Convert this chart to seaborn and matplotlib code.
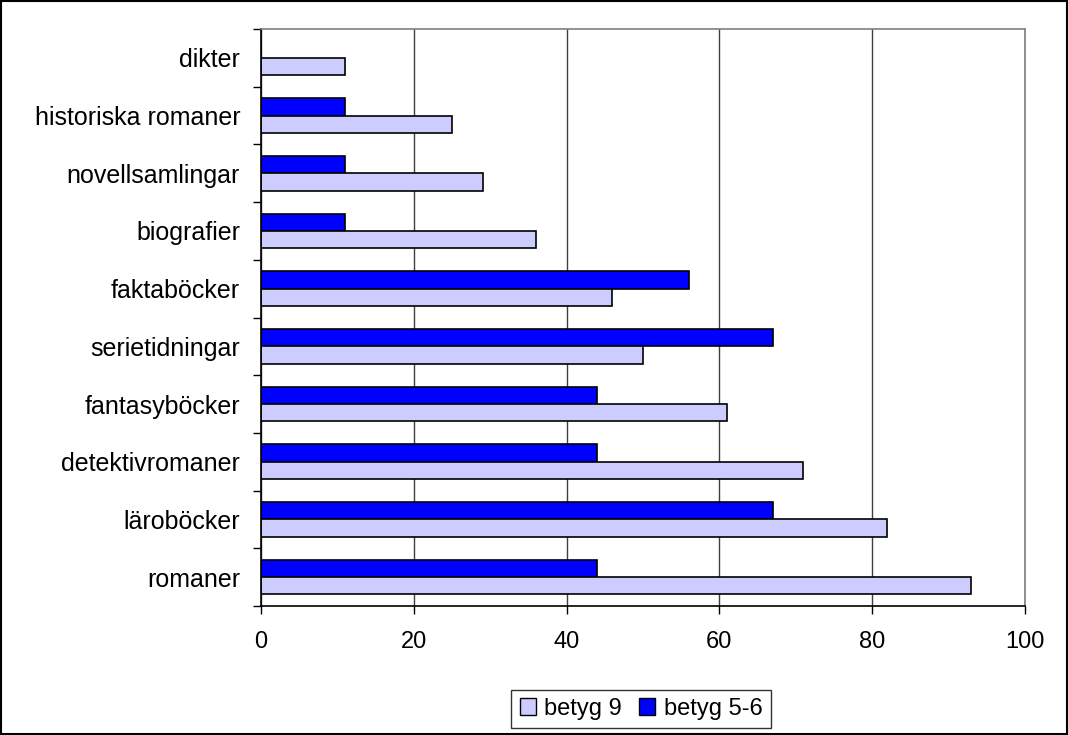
import pandas as pd
import matplotlib
matplotlib.use("Agg")
import matplotlib.pyplot as plt
import seaborn as sns
from matplotlib.patches import Patch, Rectangle

# data (top to bottom)
kategorier = ["dikter", "historiska romaner", "novellsamlingar", "biografier",
              "faktaböcker", "serietidningar", "fantasyböcker",
              "detektivromaner", "läroböcker", "romaner"]
betyg_9 = [11, 25, 29, 36, 46, 50, 61, 71, 82, 93]
betyg_5_6 = [0, 11, 11, 11, 56, 67, 44, 44, 67, 44]

df = pd.DataFrame({
    "kategori": kategorier * 2,
    "serie": ["betyg 5-6"] * len(kategorier) + ["betyg 9"] * len(kategorier),
    "varde": betyg_5_6 + betyg_9,
})

farger = {"betyg 9": "#CCCCFF", "betyg 5-6": "#0000FF"}

sns.set_style("white")
plt.rcParams["font.family"] = ["Liberation Sans", "DejaVu Sans"]
plt.rcParams["text.color"] = "black"

fig = plt.figure(figsize=(10.68, 7.35), dpi=100)
ax = fig.add_axes([0.2444, 0.1755, 0.9597 - 0.2444, 0.9605 - 0.1755])

sns.barplot(data=df, y="kategori", x="varde", hue="serie",
            order=kategorier, hue_order=["betyg 5-6", "betyg 9"],
            palette=farger, saturation=1, orient="h", width=0.6, dodge=True,
            edgecolor="black", linewidth=1.2, legend=False, ax=ax)

ax.set_xlim(0, 100)
ax.set_ylim(len(kategorier) - 0.5, -0.5)
ax.set_xticks(range(0, 101, 20))
ax.set_xlabel("")
ax.set_ylabel("")
ax.tick_params(axis="x", labelsize=17, length=6, width=1, direction="out",
               pad=12, bottom=True, color="black", labelcolor="black")
ax.tick_params(axis="y", labelsize=18, length=0, pad=15, labelcolor="black")

# category separator ticks on the left
ax.set_yticks([i + 0.5 for i in range(-1, len(kategorier))], minor=True)
ax.tick_params(axis="y", which="minor", length=6, width=1, left=True, color="black")

ax.grid(axis="x", color="#404040", linewidth=1)
ax.set_axisbelow(True)

for s in ["left", "bottom"]:
    ax.spines[s].set_color("black")
    ax.spines[s].set_linewidth(1.2)
for s in ["top", "right"]:
    ax.spines[s].set_color("#808080")
    ax.spines[s].set_linewidth(1.2)

handles = [Patch(facecolor=farger["betyg 9"], edgecolor="black", label="betyg 9"),
           Patch(facecolor=farger["betyg 5-6"], edgecolor="black", label="betyg 5-6")]
leg = fig.legend(handles=handles, loc="center", ncol=2,
                 bbox_to_anchor=(641 / 1068, 1 - 709 / 735),
                 frameon=True, fancybox=False, fontsize=17,
                 handlelength=0.7, handleheight=0.7, handletextpad=0.35,
                 columnspacing=0.7, borderpad=0.35, borderaxespad=0)
leg.get_frame().set_edgecolor("black")
leg.get_frame().set_linewidth(1)

fig.patches.append(Rectangle((0.001, 0.001), 0.998, 0.998, transform=fig.transFigure,
                             fill=False, edgecolor="black", linewidth=1.5))

fig.savefig("out.png", dpi=100)
